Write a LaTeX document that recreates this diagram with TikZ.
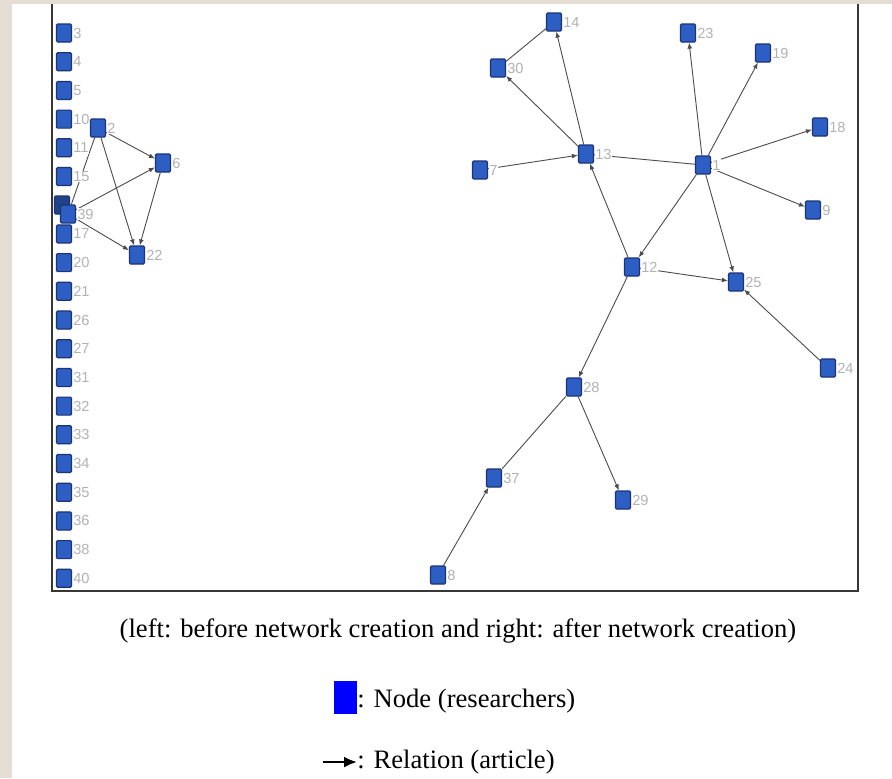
\documentclass[tikz,border=0pt]{standalone}
\usepackage{fontspec}
\setmainfont{Liberation Serif}
\newfontfamily\numfont{Liberation Sans}
\usetikzlibrary{arrows.meta,backgrounds}
\definecolor{paper}{RGB}{229,221,211}
\definecolor{resblue}{RGB}{44,94,196}
\definecolor{resedge}{RGB}{28,52,118}
\definecolor{framegray}{RGB}{55,55,55}
\tikzset{
  res/.style={draw=resedge, fill=resblue, line width=0.6pt, minimum width=7.5pt, minimum height=9pt, inner sep=0pt, rounded corners=0.6pt},
  num/.style={font=\numfont\fontsize{7.3}{8}\selectfont, text=gray!60, fill=white, inner sep=0.4pt},
  link/.style={draw=black!70, line width=0.45pt},
  rel/.style={link, -{Latex[length=3pt,width=2.4pt]}},
  captxt/.style={font=\fontsize{13.3}{15}\selectfont, inner sep=0pt}
}
\begin{document}
\begin{tikzpicture}[x=0.5pt, y=-0.5pt]
\useasboundingbox (0,0) rectangle (892,778);
\begin{pgfonlayer}{background}
\fill[white] (0,0) rectangle (892,778);
\fill[paper] (0,0) rectangle (892,4);
\fill[paper] (0,0) rectangle (12,778);
\end{pgfonlayer}
% 边框
\draw[framegray, line width=1pt] (52,4) -- (52,591) -- (858,591) -- (858,4);
% 左: 建网前
\foreach \n/\i in {3/0,4/1,5/2,10/3,11/4,15/5,17/7,20/8,21/9,26/10,27/11,31/12,32/13,33/14,34/15,35/16,36/17,38/18,40/19}
  \node[res, label={[num]right:\n}] (n\n) at (64, 33+\i*28.7) {};
\node[res, fill=resblue!70!black] (n16) at (62,205) {};
\node[res, label={[num]right:39}] (n39) at (68,214) {};
\node[res, label={[num]right:2}] (n2) at (98,128) {};
\node[res, label={[num]right:6}] (n6) at (163,163) {};
\node[res, label={[num]right:22}] (n22) at (137,255) {};
% 右: 建网后
\foreach \n/\x/\y in {14/554/22, 30/498/68, 7/480/170, 13/586/154, 23/688/33, 19/763/53, 18/820/127, 1/703/165, 9/813/210, 12/632/267, 25/736/282, 24/828/368, 28/574/387, 37/494/478, 29/623/500, 8/438/575}
  \node[res, label={[num]right:\n}] (n\n) at (\x,\y) {};
% 关系
\begin{pgfonlayer}{background}
\draw[link] (n2) -- (n39);
\draw[rel] (n2) -- (n6);
\draw[rel] (n2) -- (n22);
\draw[rel] (n6) -- (n22);
\draw[rel] (n39) -- (n6);
\draw[rel] (n39) -- (n22);
\draw[rel] (n13) -- (n14);
\draw[rel] (n13) -- (n30);
\draw[link] (n30) -- (n14);
\draw[rel] (n7) -- (n13);
\draw[link] (n13) -- (n1);
\draw[rel] (n12) -- (n13);
\draw[rel] (n1) -- (n23);
\draw[rel] (n1) -- (n19);
\draw[rel] (n1) -- (n18);
\draw[rel] (n1) -- (n9);
\draw[rel] (n1) -- (n25);
\draw[rel] (n1) -- (n12);
\draw[rel] (n12) -- (n25);
\draw[rel] (n24) -- (n25);
\draw[rel] (n12) -- (n28);
\draw[link] (n28) -- (n37);
\draw[rel] (n28) -- (n29);
\draw[rel] (n8) -- (n37);
\end{pgfonlayer}
%Text
\node[captxt, anchor=base] (cap) at (458,637) {(left: before network creation and right: after network creation)};
\node[fill=blue, minimum width=11.5pt, minimum height=16.5pt, inner sep=0pt, anchor=north west] (key) at (334,681) {};
\node[captxt, anchor=base west] (keytxt) at (357,707) {: Node (researchers)};
\coordinate (relstart) at (323,762);
\node[captxt, anchor=base west] (reltxt) at (357,768) {: Relation (article)};
\draw[line width=1.1pt, -{Latex[length=6.5pt,width=5.5pt]}] (relstart) -- (relstart -| reltxt.west);
\end{tikzpicture}
\end{document}
